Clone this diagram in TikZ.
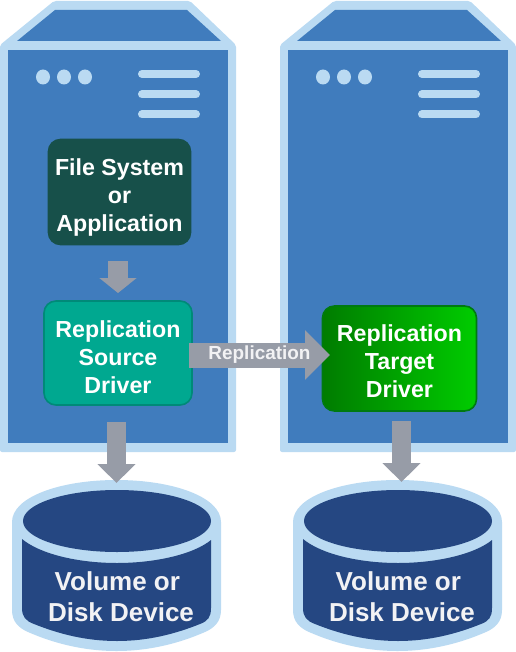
\documentclass[tikz,border=0pt]{standalone}
\usepackage{fontspec}
\setmainfont{Liberation Sans}
\usetikzlibrary{arrows.meta}
\definecolor{frame}{HTML}{BADAF2}
\definecolor{srv}{HTML}{407CBD}
\definecolor{disk}{HTML}{254782}
\definecolor{gr}{HTML}{979CA7}
\definecolor{dteal}{HTML}{17504A}
\definecolor{teal}{HTML}{00A890}
\definecolor{tealb}{HTML}{008A78}
\definecolor{gleft}{HTML}{007C00}
\definecolor{gright}{HTML}{00CC00}
\definecolor{gborder}{HTML}{007A10}
\definecolor{txtw}{HTML}{F2F2F4}
\tikzset{
 x=0.75pt,y=-0.75pt,
 box/.style={align=center,font=\fontsize{17.4pt}{21pt}\selectfont\bfseries,text=white,line width=1.2pt,inner sep=0pt,rounded corners=9pt},
 blockarrow/.style={line width=#1*0.75pt,gr},
 barline/.style={frame,line width=6pt,line cap=round},
 lbl/.style={font=\fontsize{19.5pt}{23.25pt}\selectfont\bfseries,align=center,text=txtw,inner sep=0pt},
 pics/server/.style={code={
  \fill[frame,rounded corners=1.5pt] (0,45)--(54,1)--(190,1)--(236,45)--(236,452)--(0,452)--cycle;
  \fill[srv] (17,41)--(55,10)--(187,10)--(221,41)--cycle;
  \fill[srv] (8,50) rectangle (228,443);
  \foreach \cx in {43,64,85}{\fill[frame] (\cx,77) ellipse [x radius=7,y radius=7.5];}
  \foreach \cy in {74,94.5,114.5}{\draw[barline] (142,\cy)--(196,\cy);}
 }},
 pics/dsk/.style={code={
  \fill[frame] (12,522) .. controls (12,497) and (60,480) .. (116.5,480) .. controls (173,480) and (221,497) .. (221,522)
    -- (221,610) .. controls (221,622) and (214,628) .. (205,632) .. controls (180,643) and (150,651) .. (116.5,651)
    .. controls (83,651) and (53,643) .. (28,632) .. controls (19,628) and (12,622) .. (12,610) -- cycle;
  \fill[disk] (117,521) ellipse [x radius=94,y radius=31];
  \fill[disk] (22,539) .. controls (40,554) and (78,563) .. (117,563) .. controls (156,563) and (194,554) .. (211,540)
    -- (211,608) .. controls (211,617) and (208,621) .. (200,624) .. controls (175,634) and (148,641) .. (117,641)
    .. controls (86,641) and (59,634) .. (34,624) .. controls (26,621) and (22,617) .. (22,608) -- cycle;
 }}
}
\begin{document}
\begin{tikzpicture}
\useasboundingbox (0,0) rectangle (516,652);
\pic at (0,0) {server};
\pic at (280,0) {server};
\pic at (0,0) {dsk};
\pic at (281,0) {dsk};
\node[lbl] (vol1) at (121,596.5) {Volume or\hspace*{5.5pt}\\Disk Device};
\node[lbl] (vol2) at (402,596.5) {Volume or\hspace*{5.5pt}\\Disk Device};
\node[box,fill=dteal,draw=dteal,minimum width=106.5pt,minimum height=78.75pt] (fs) at (119.5,192) {\rule{0pt}{20.2pt}File System\\or\\Application};
\node[box,fill=teal,draw=tealb,minimum width=111pt,minimum height=78pt] (src) at (118,353) {\rule{0pt}{18.7pt}Replication\\Source\\Driver};
\node[box,left color=gleft,right color=gright,draw=gborder,minimum width=115.5pt,minimum height=78.75pt] (tgt) at (399.5,358.5) {\rule{0pt}{17.2pt}Replication\\Target\\Driver};
\coordinate (a1s) at (118,261);
\coordinate (a1e) at (118,293);
\coordinate (a2s) at (116.5,422);
\coordinate (a2e) at (116.5,483);
\coordinate (a3s) at (401.5,421);
\coordinate (a3e) at (401.5,482);
\coordinate (a4s) at (189,355);
\coordinate (a4e) at (330,355);
\draw[blockarrow=19.5,-{Triangle[length=15*0.75pt,width=36.5*0.75pt]}] (a1s) -- (a1e);
\draw[blockarrow=19.5,-{Triangle[length=19*0.75pt,width=37*0.75pt]}] (a2s) -- (a2e);
\draw[blockarrow=19.5,-{Triangle[length=19*0.75pt,width=37*0.75pt]}] (a3s) -- (a3e);
\draw[blockarrow=25,-{Triangle[length=25*0.75pt,width=48*0.75pt]}] (a4s) -- (a4e) node[pos=0.5,font=\fontsize{14.2pt}{16pt}\selectfont\bfseries,text=txtw,inner sep=0pt] (rlabel) {Replication};
\end{tikzpicture}
\end{document}
